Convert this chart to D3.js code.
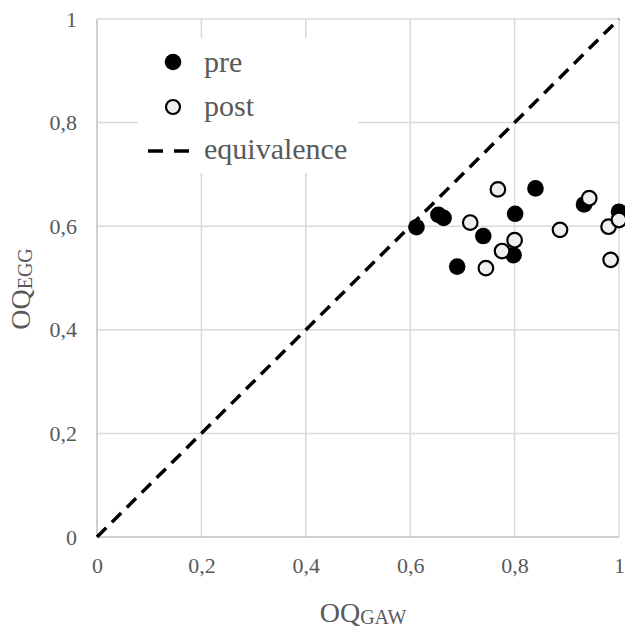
<!DOCTYPE html>
<html>
<head>
<meta charset="utf-8">
<script src="https://cdn.jsdelivr.net/npm/d3@7/dist/d3.min.js"></script>
<style>
  html, body { margin: 0; padding: 0; background: #fff; }
  svg { display: block; }
  text { font-family: "Liberation Serif", "Times New Roman", serif; fill: #595959; }
</style>
</head>
<body>
<svg id="chart" width="625" height="628"></svg>
<script>
// ---- data ----
const preX  = [0.612, 0.654, 0.664, 0.690, 0.740, 0.798, 0.801, 0.840, 0.933, 1.000];
const preY  = [0.598, 0.622, 0.616, 0.522, 0.581, 0.544, 0.624, 0.673, 0.642, 0.628];
const postX = [0.715, 0.745, 0.768, 0.776, 0.800, 0.887, 0.943, 0.980, 0.984, 1.000];
const postY = [0.607, 0.519, 0.671, 0.552, 0.573, 0.593, 0.654, 0.599, 0.535, 0.612];
const tickValues = [0, 0.2, 0.4, 0.6, 0.8, 1];
const tickLabels = ["0", "0,2", "0,4", "0,6", "0,8", "1"];
const legendLabels = ["pre", "post", "equivalence"];
const equivalence = [[0, 0], [1, 1]];

const svg = d3.select("#chart");
const x = d3.scaleLinear().domain([0, 1]).range([97, 619]);
const y = d3.scaleLinear().domain([0, 1]).range([537, 19]);
const fmt = d => tickLabels[tickValues.indexOf(d)];

// grid
const grid = svg.append("g");
grid.selectAll("line.v").data(tickValues).join("line")
  .attr("x1", d => x(d)).attr("x2", d => x(d))
  .attr("y1", y(0)).attr("y2", y(1))
  .attr("stroke", "#d9d9d9").attr("stroke-width", 1.5);
grid.selectAll("line.h").data(tickValues).join("line")
  .attr("y1", d => y(d)).attr("y2", d => y(d))
  .attr("x1", x(0)).attr("x2", x(1))
  .attr("stroke", "#d9d9d9").attr("stroke-width", 1.5);

// axes (labels only)
const xAxis = svg.append("g").attr("transform", `translate(0,${y(0)})`)
  .call(d3.axisBottom(x).tickValues(tickValues).tickFormat(fmt).tickSize(0).tickPadding(20));
const yAxis = svg.append("g").attr("transform", `translate(${x(0)},0)`)
  .call(d3.axisLeft(y).tickValues(tickValues).tickFormat(fmt).tickSize(0).tickPadding(20));
[xAxis, yAxis].forEach(a => {
  a.select(".domain").remove();
  a.selectAll("text").style("font-family", "'Liberation Serif', serif")
    .attr("font-size", 22).attr("fill", "#595959");
});
svg.append("line").attr("x1", x(0)).attr("x2", x(1)).attr("y1", y(0)).attr("y2", y(0))
  .attr("stroke", "#c8c8c8").attr("stroke-width", 1.5);
svg.append("line").attr("x1", x(0)).attr("x2", x(0)).attr("y1", y(0)).attr("y2", y(1))
  .attr("stroke", "#c8c8c8").attr("stroke-width", 1.5);

// legend background
svg.append("rect").attr("x", 138).attr("y", 38).attr("width", 220).attr("height", 135).attr("fill", "#fff");

// equivalence line
svg.append("path")
  .attr("d", d3.line().x(d => x(d[0])).y(d => y(d[1]))(equivalence))
  .attr("stroke", "#000").attr("stroke-width", 3.5).attr("stroke-dasharray", "13,8").attr("fill", "none");

// points
svg.append("g").selectAll("circle").data(preX.map((v, i) => [v, preY[i]])).join("circle")
  .attr("cx", d => x(d[0])).attr("cy", d => y(d[1])).attr("r", 8.3).attr("fill", "#000");
svg.append("g").selectAll("circle").data(postX.map((v, i) => [v, postY[i]])).join("circle")
  .attr("cx", d => x(d[0])).attr("cy", d => y(d[1])).attr("r", 7.3)
  .attr("fill", "#efefef").attr("stroke", "#000").attr("stroke-width", 2.2);

// legend
const lg = svg.append("g");
lg.append("circle").attr("cx", 173).attr("cy", 62).attr("r", 8.3).attr("fill", "#000");
lg.append("circle").attr("cx", 173).attr("cy", 107).attr("r", 7).attr("fill", "#efefef")
  .attr("stroke", "#000").attr("stroke-width", 2.2);
lg.append("line").attr("x1", 148).attr("x2", 190).attr("y1", 151).attr("y2", 151)
  .attr("stroke", "#000").attr("stroke-width", 3.5).attr("stroke-dasharray", "15,11");
lg.selectAll("text").data(legendLabels).join("text")
  .attr("x", 204).attr("y", (d, i) => 72 + i * 43.5)
  .attr("font-size", 30).text(d => d);

// axis titles
const xt = svg.append("text").attr("x", 363).attr("y", 622).attr("text-anchor", "middle");
xt.append("tspan").attr("font-size", 28).text("OQ");
xt.append("tspan").attr("font-size", 20).attr("dy", 2).text("GAW");

const yt = svg.append("text").attr("transform", "translate(30,289) rotate(-90)").attr("text-anchor", "middle");
yt.append("tspan").attr("font-size", 28).text("OQ");
yt.append("tspan").attr("font-size", 20).attr("dy", 2).text("EGG");
</script>
</body>
</html>
